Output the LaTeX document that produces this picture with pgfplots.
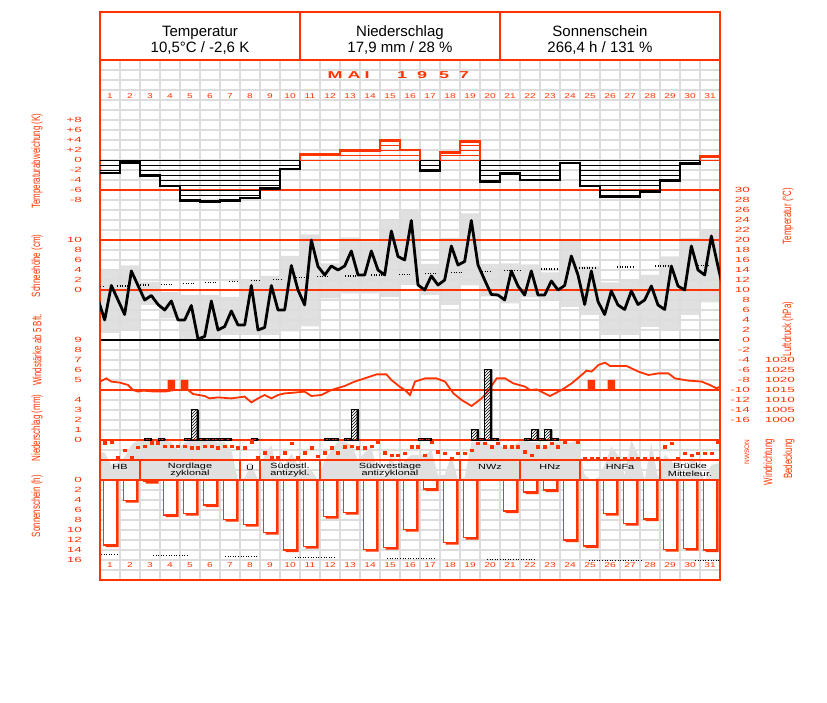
\documentclass[border=0pt]{standalone}
\usepackage{pgfplots}
\pgfplotsset{compat=1.18}
\usepackage{pgfplotstable}
\usepgfplotslibrary{fillbetween}
\usetikzlibrary{patterns}
\usepackage{fontspec}
\setmainfont{Liberation Sans}
\newfontfamily\pix[FakeStretch=1.45]{Liberation Sans}
\newfontfamily\pixw[FakeStretch=1.8]{Liberation Sans}
\newfontfamily\narrow[FakeStretch=0.66]{Liberation Sans}
\definecolor{dred}{RGB}{255,51,0}
\definecolor{lgrey}{RGB}{224,224,224}
\definecolor{ggrid}{RGB}{221,221,221}

% daily values: anomaly (K), max/min temperature (C), sunshine (h)
\pgfplotstableread{
day anom tmax tmin sun
1 -2.6 14.0 1.4 13.0
2 -0.5 14.9 2.0 4.1
3 -3.1 11.6 7.0 0.3
4 -5.2 9.6 4.3 7.0
5 -8.1 9.0 0.0 6.7
6 -8.3 9.0 0.0 5.0
7 -8.1 8.6 1.0 7.9
8 -7.6 12.0 1.0 8.9
9 -5.7 12.8 1.0 10.5
10 -1.8 16.8 1.7 14.0
11 1.2 21.1 2.7 13.3
12 1.2 15.3 8.3 7.3
13 1.9 20.5 9.3 6.5
14 1.9 19.7 9.3 13.9
15 3.9 24.0 8.6 13.5
16 2.0 26.0 11.0 9.9
17 -2.1 15.2 9.0 1.8
18 1.5 20.4 7.0 12.5
19 3.7 25.3 10.9 11.5
20 -4.3 15.2 8.7 0.0
21 -2.7 15.3 7.3 6.2
22 -4.0 15.1 8.5 2.4
23 -4.0 13.5 8.0 2.0
24 -0.6 19.8 6.6 12.0
25 -5.2 14.7 5.0 13.2
26 -7.4 11.5 1.0 6.7
27 -7.4 12.0 1.0 8.7
28 -6.4 13.0 2.6 7.8
29 -4.1 16.7 1.9 13.9
30 -0.7 20.4 5.0 13.7
31 0.7 22.0 7.5 14.0
32 0.7 22.0 7.5 0.0
}\daily

% observations (3 per day): temperature, precipitation in following interval,
% wind direction (deg), cloud cover (octas), wind force (Bft, >=5 only)
\pgfplotstableread{
n T RR dd N ff
-1 8.2 0 nan 5.5 nan
0 4.0 0 18 5.5 nan
1 10.9 0 0 3 nan
2 8.0 0 281 3.5 nan
3 5.1 0 149 4.6 nan
4 13.8 0 281 7 nan
5 10.9 0 101 8 nan
6 8.0 0.1 77 8 nan
7 8.9 0 18 8 nan
8 7.1 0.1 18 8 nan
9 6.0 0 77 8 nan
10 7.8 0 77 7.5 5
11 4.0 0 77 6 nan
12 4.0 0.1 77 7.5 5
13 6.9 3.0 108 8 nan
14 0.2 0.1 108 8 nan
15 0.7 0.1 77 8 nan
16 7.8 0.1 77 8 nan
17 2.0 0.1 108 7.5 nan
18 2.7 0.1 77 7.5 nan
19 5.8 0 77 6 nan
20 3.0 0 108 0 nan
21 3.0 0 108 0.5 nan
22 10.9 0.1 0 3.3 nan
23 2.0 0 281 0 nan
24 2.5 0 198 5 nan
25 10.9 0 281 7 nan
26 6.0 0 281 1 nan
27 6.0 0 198 3 nan
28 14.9 0 30 5.3 nan
29 10.0 0 281 3 nan
30 7.0 0 198 2 nan
31 20.0 0 108 2 nan
32 14.7 0 257 0 nan
33 13.0 0.1 198 4 nan
34 14.8 0.1 108 6 nan
35 14.0 0 198 7.7 nan
36 14.8 0.1 90 7.7 nan
37 17.8 3.0 77 7 nan
38 13.0 0 108 4 nan
39 13.0 0 108 5.5 nan
40 17.8 0 77 6.7 nan
41 14.0 0 0 1 nan
42 13.0 0 198 0.7 nan
43 21.8 0 240 5 nan
44 16.7 0 240 1 nan
45 16.0 0 210 4 nan
46 23.9 0 90 5 nan
47 11.0 0.1 90 5 nan
48 10.0 0.1 240 5 nan
49 12.8 0 12 6 nan
50 11.0 0 180 1 nan
51 12.0 0 210 1 nan
52 18.8 0 300 5 nan
53 15.0 0 210 0 nan
54 15.7 0 210 0.5 nan
55 23.9 1.0 150 7.5 nan
56 15.0 0.1 30 7.5 nan
57 12.0 7.0 30 7.5 nan
58 9.1 0.1 90 7 nan
59 9.0 0 30 7 nan
60 8.0 0 90 6.5 nan
61 13.8 0 90 6.5 nan
62 10.8 0 90 7.5 nan
63 9.0 0.1 180 8 nan
64 13.8 1.0 240 7.5 nan
65 9.0 0.1 90 7.5 nan
66 9.0 1.0 90 6 nan
67 11.8 0.1 30 7.5 nan
68 10.0 0 90 7.5 nan
69 10.9 0 12 7.5 nan
70 16.8 0 nan 7.5 nan
71 13.0 0 12 8 nan
72 7.1 0 300 1 nan
73 13.8 0 300 0 5
74 7.7 0 300 0.5 nan
75 5.1 0 300 3 nan
76 9.8 0 300 6.7 5
77 7.0 0 300 5 nan
78 6.1 0 300 1 nan
79 9.8 0 300 8 nan
80 7.1 0 300 5 nan
81 8.0 0 300 0 nan
82 10.8 0 300 7.3 nan
83 7.0 0 300 0.5 nan
84 6.1 0 90 5 nan
85 14.8 0 30 4 nan
86 10.8 0 300 0.5 nan
87 10.0 0 210 1 nan
88 18.8 0 240 4.7 nan
89 14.0 0 210 3 nan
90 13.0 0 210 0 nan
91 20.8 0 210 3 nan
92 14.7 0 12 3.3 nan
93 9.0 0 nan 3.3 nan
}\obs

% air pressure (hPa), x in days
\pgfplotstableread{
x p
0.5 1019.2
0.82 1020.8
1.07 1019.2
1.49 1018.7
1.9 1017.5
2.15 1015.0
2.4 1014.2
2.65 1014.7
3.23 1014.2
3.73 1014.2
4.23 1015.0
4.9 1015.0
5.15 1013.0
5.73 1012.0
5.98 1010.8
6.4 1011.3
7.07 1010.8
7.73 1011.7
8.07 1008.8
8.4 1010.8
8.73 1012.5
9.07 1010.8
9.4 1012.5
9.73 1013.3
10.23 1013.7
10.73 1014.2
11.07 1012.0
11.57 1012.5
12.07 1015.0
12.73 1017.0
13.23 1019.2
13.73 1020.8
14.32 1022.8
14.82 1022.8
15.07 1020.0
15.48 1016.7
15.75 1015.0
16.0 1012.5
16.25 1019.2
16.75 1020.8
17.33 1020.8
17.75 1019.2
18.17 1013.3
18.58 1010.0
19.08 1007.0
19.58 1010.8
19.92 1014.7
20.33 1020.8
20.75 1020.8
21.17 1018.3
21.75 1016.7
22.0 1015.0
22.33 1015.3
23.0 1012.0
23.58 1015.0
24.08 1018.3
24.58 1022.5
24.83 1024.7
25.08 1024.2
25.42 1027.5
25.75 1028.7
26.0 1027.0
26.83 1027.0
27.42 1024.2
27.92 1022.5
28.42 1023.3
28.92 1023.3
29.25 1020.8
29.92 1019.7
30.58 1019.2
31.0 1017.5
31.33 1015.8
31.5 1016.7
}\press

% normal temperature (dotted segments)
\pgfplotstableread{
x T
0.5 10.7
0.75 10.7
nan nan
1.35 10.8
2.0 10.8
nan nan
2.5 11.0
3.0 11.0
nan nan
3.55 11.1
4.1 11.1
nan nan
4.65 11.3
5.2 11.3
nan nan
5.75 11.5
6.3 11.5
nan nan
6.95 11.7
7.4 11.7
nan nan
8.05 11.9
8.5 11.9
nan nan
9.15 12.1
9.55 12.1
nan nan
10.3 12.5
10.75 12.5
nan nan
11.35 12.7
12.0 12.7
nan nan
12.75 12.8
13.35 12.8
nan nan
14.05 13.0
14.65 13.0
nan nan
15.45 13.1
16.0 13.1
nan nan
16.75 13.3
17.4 13.3
nan nan
18.05 13.5
18.65 13.5
nan nan
19.6 13.7
20.0 13.7
nan nan
20.7 13.9
21.5 13.9
nan nan
22.55 14.2
23.4 14.2
nan nan
24.45 14.4
25.3 14.4
nan nan
26.35 14.6
27.2 14.6
nan nan
28.25 14.8
29.0 14.8
nan nan
30.4 14.9
31.0 14.9
}\tnorm

% possible sunshine duration (dotted segments)
\pgfplotstableread{
x S
0.55 14.8
1.4 14.8
nan nan
3.15 15.1
4.9 15.1
nan nan
6.75 15.3
8.4 15.3
nan nan
10.25 15.5
12.3 15.5
nan nan
14.85 15.7
17.3 15.7
nan nan
19.85 15.9
22.3 15.9
nan nan
24.95 16.0
27.6 16.0
nan nan
30.25 16.1
31.5 16.1
}\snorm

\pgfplotsset{
  panel/.style={
    scale only axis, width=620pt, xmin=0.5, xmax=31.5,
    anchor=south west, axis line style={draw=none},
    xtick=\empty, ytick=\empty, major tick length=0pt,
    tick style={draw=none},
    ticklabel style={font=\pixw\fontsize{7.5}{8}\selectfont, text=dred},
  },
  leftlab/.style={yticklabel style={anchor=east, inner sep=0pt, xshift=-18pt}},
  rightlab/.style={yticklabel pos=right, yticklabel style={anchor=east, inner sep=0pt, xshift=#1}},
}

\begin{document}
\begin{tikzpicture}

% background grid
\begin{axis}[panel, at={(100pt,122pt)}, height=520pt, ymin=0, ymax=52,
  xtick={1.5,2.5,...,30.5}, ytick={1,2,...,51}, xticklabels={}, yticklabels={},
  grid=major, grid style={ggrid, line width=1.3pt}]
\addplot[draw=none] coordinates {(1,1)};
\end{axis}

% temperature max/min boxes + right tick labels
\begin{axis}[panel, at={(100pt,282pt)}, height=230pt, ymin=-16, ymax=30,
  ytick={-16,-14,...,30},
  yticklabels={-16,-14,-12,-10,-8,-6,-4,-2,0,2,4,6,8,10,12,14,16,18,20,22,24,26,28,30},
  rightlab=30pt]
\addplot[name path=tmax, draw=none, const plot mark left] table[x expr=\thisrow{day}-0.5, y=tmax]{\daily};
\addplot[name path=tmin, draw=none, const plot mark left] table[x expr=\thisrow{day}-0.5, y=tmin]{\daily};
\addplot[lgrey] fill between[of=tmax and tmin];
\end{axis}

% snow depth scale (labels only)
\begin{axis}[panel, at={(100pt,412pt)}, height=50pt, ymin=0, ymax=10,
  ytick={0,2,...,10}, yticklabels={0,2,4,6,8,10}, leftlab]
\addplot[draw=none] coordinates {(1,0)};
\end{axis}

% cloud cover
\begin{axis}[panel, at={(100pt,222pt)}, height=40pt, ymin=0, ymax=8]
\addplot[fill=lgrey, draw=none] table[x expr=0.7333+\thisrow{n}/3, y=N]{\obs} \closedcycle;
\end{axis}

% frame and reference lines
\begin{scope}[shift={(0pt,702pt)}, x=1pt, y=-1pt]
\foreach \yy in {190,240,290,390,440,460,480}
  \draw[dred, line width=1.3pt] (100,\yy) -- (720,\yy);
\draw[black, line width=1.4pt] (100,340) -- (720,340);
\foreach \xx in {140,240,260,320,460,520,580,660}
  \draw[dred, line width=1.3pt] (\xx,460) -- (\xx,480);
\draw[dred, line width=1.3pt] (100,60) -- (720,60) (300,12) -- (300,60) (500,12) -- (500,60);
\draw[dred, line width=1.5pt] (100,12) rectangle (720,580);
\end{scope}

% temperature anomaly
\begin{axis}[panel, at={(100pt,492pt)}, height=100pt, ymin=-10, ymax=10,
  ytick={-8,-6,...,8}, yticklabels={-8,-6,-4,-2,0,+2,+4,+6,+8}, leftlab]
\pgfplotsinvokeforeach{-8,-7,...,-1}{
  \addplot[only marks, mark=-, mark size=10pt, mark options={line width=0.8pt, black},
    restrict x to domain=1:31]
    table[x=day, y expr={\thisrow{anom}<#1 ? #1 : nan}]{\daily};
}
\pgfplotsinvokeforeach{1,2,3}{
  \addplot[only marks, mark=-, mark size=10pt, mark options={line width=0.8pt, dred},
    restrict x to domain=1:31]
    table[x=day, y expr={\thisrow{anom}>#1 ? #1 : nan}]{\daily};
}
\addplot[only marks, mark=-, mark size=10pt, mark options={line width=0.8pt, black}, restrict x to domain=1:31]
  table[x=day, y expr={\thisrow{anom}<0 ? 0 : nan}]{\daily};
\addplot[only marks, mark=-, mark size=10pt, mark options={line width=0.8pt, dred}, restrict x to domain=1:31]
  table[x=day, y expr={\thisrow{anom}>0 ? 0 : nan}]{\daily};
\addplot[black, line width=2.6pt, const plot mark left] table[x expr=\thisrow{day}-0.5, y=anom]{\daily};
\addplot[dred, line width=2.6pt, const plot mark left] coordinates {(10.5,0) (10.5,1.2) (11.5,1.2) (12.5,1.9) (13.5,1.9) (14.5,3.9) (15.5,2.0) (16.5,2.0) (16.5,0)};
\addplot[dred, line width=2.6pt, const plot mark left] coordinates {(17.5,0) (17.5,1.5) (18.5,3.7) (19.5,3.7) (19.5,0)};
\addplot[dred, line width=2.6pt, const plot mark left] coordinates {(30.5,0) (30.5,0.7) (31.5,0.7)};
\end{axis}

% temperature lines
\begin{axis}[panel, at={(100pt,282pt)}, height=230pt, ymin=-16, ymax=30]
\addplot[black, line width=1.1pt, dash pattern=on 1pt off 1.6pt, unbounded coords=jump] table[x=x, y=T]{\tnorm};
\addplot[black, line width=2.8pt, line join=round] table[x expr=0.7333+\thisrow{n}/3, y=T]{\obs};
\end{axis}

% wind force
\begin{axis}[panel, at={(100pt,312pt)}, height=50pt, ymin=4, ymax=9,
  ytick={5,...,9}, yticklabels={5,6,7,8,9}, leftlab]
\addplot[ybar, bar width=7.5pt, bar shift=0pt, fill=dred, draw=none] table[x expr=0.7333+\thisrow{n}/3, y=ff]{\obs};
\end{axis}

% pressure
\begin{axis}[panel, at={(100pt,282pt)}, height=70pt, ymin=1000, ymax=1035,
  ytick={1000,1005,...,1030}, yticklabels={1000,1005,1010,1015,1020,1025,1030}, rightlab=75pt]
\addplot[dred, line width=1.8pt] table[x=x, y=p]{\press};
\end{axis}

% precipitation
\begin{axis}[panel, at={(100pt,262pt)}, height=90pt, ymin=0, ymax=9,
  ytick={0,...,4}, yticklabels={0,1,2,3,4}, leftlab]
\addplot[ybar, bar width=2.5pt, bar shift=3.2pt, fill=black, draw=none,
  y filter/.expression={y==0 ? nan : y}] table[x expr=0.9+\thisrow{n}/3, y=RR]{\obs};
\addplot[ybar, bar width=0.3333, bar shift=0pt, draw=black, line width=1pt, pattern=north east lines,
  y filter/.expression={y==0 ? nan : y}] table[x expr=0.9+\thisrow{n}/3, y=RR]{\obs};
\end{axis}

% wind direction
\begin{axis}[panel, at={(100pt,240.3pt)}, height=20pt, ymin=0, ymax=360, y dir=reverse, clip=false]
\addplot[only marks, mark=square*, mark size=1.1pt, dred, mark options={xscale=1.4}]
  table[x expr=0.7333+\thisrow{n}/3, y=dd]{\obs};
\end{axis}

% sunshine
\begin{axis}[panel, at={(100pt,142pt)}, height=80pt, ymin=0, ymax=16, y dir=reverse,
  ytick={0,2,...,16}, yticklabels={0,2,4,6,8,10,12,14,16}, leftlab]
\addplot[ybar, bar width=13pt, bar shift=2pt, fill=dred, draw=none]
  table[x=day, y expr={\thisrow{sun}>0 ? \thisrow{sun}+0.4 : nan}]{\daily};
\addplot[ybar, bar width=13pt, bar shift=0pt, draw=dred, fill=white, line width=1.1pt]
  table[x=day, y expr={\thisrow{sun}>0 ? \thisrow{sun} : nan}]{\daily};
\addplot[black, line width=1pt, dash pattern=on 1pt off 1.6pt, unbounded coords=jump] table[x=x, y=S]{\snorm};
\end{axis}

% texts
\begin{scope}[shift={(0pt,702pt)}, x=1pt, y=-1pt]
\node[align=center, font=\fontsize{15}{16}\selectfont] at (200,40.5) {Temperatur\\10,5°C / -2,6 K};
\node[align=center, font=\fontsize{15}{16}\selectfont] at (400,40.5) {Niederschlag\\17,9 mm / 28 \%};
\node[align=center, font=\fontsize{15}{16}\selectfont] at (600,40.5) {Sonnenschein\\266,4 h / 131 \%};
\foreach \xx/\ch in {335/M,354/A,367/I,402/1,422/9,444/5,464/7}
  \node[font=\pixw\bfseries\fontsize{10}{11}\selectfont, text=dred] at (\xx,75) {\ch};
\foreach \d in {1,...,31} {
  \node[font=\pix\fontsize{7}{8}\selectfont, text=dred] at ({90+20*\d},96) {\d};
  \node[font=\pix\fontsize{7}{8}\selectfont, text=dred] at ({90+20*\d},565.5) {\d};
}
% weather types
\begin{scope}[every node/.style={font=\pix\fontsize{7.5}{7.5}\selectfont, align=center, inner sep=0pt}]
\node at (120,467) {HB};
\node at (190,470) {Nordlage\\zyklonal};
\node at (250,467) {Ü};
\node at (290,470) {Südostl.\\antizykl.};
\node at (390,470) {Südwestlage\\antizyklonal};
\node at (490,467) {NWz};
\node at (550,467) {HNz};
\node at (620,467) {HNFa};
\node at (690,470) {Brücke\\Mitteleur.};
\end{scope}
% axis titles
\begin{scope}[every node/.style={rotate=90, font=\narrow\fontsize{12}{13}\selectfont, text=dred}]
\node at (37,161) {Temperaturabweichung (K)};
\node at (37,266) {Schneehöhe (cm)};
\node at (37,350) {Windstärke ab 5 Bft.};
\node at (37,428) {Niederschlag (mm)};
\node at (37,506) {Sonnenschein (h)};
\node at (788,216) {Temperatur (°C)};
\node at (788,329) {Luftdruck (hPa)};
\node at (769,462) {Windrichtung};
\node at (789,459) {Bedeckung};
\end{scope}
\foreach \yy/\l in {441.7/N,446.7/O,451.7/S,456.7/W,461.7/N}
  \node[rotate=90, font=\fontsize{6.5}{7}\selectfont, text=dred, inner sep=0pt] at (747,\yy) {\l};
\path (0,0) rectangle (827,702);
\end{scope}
\end{tikzpicture}
\end{document}
